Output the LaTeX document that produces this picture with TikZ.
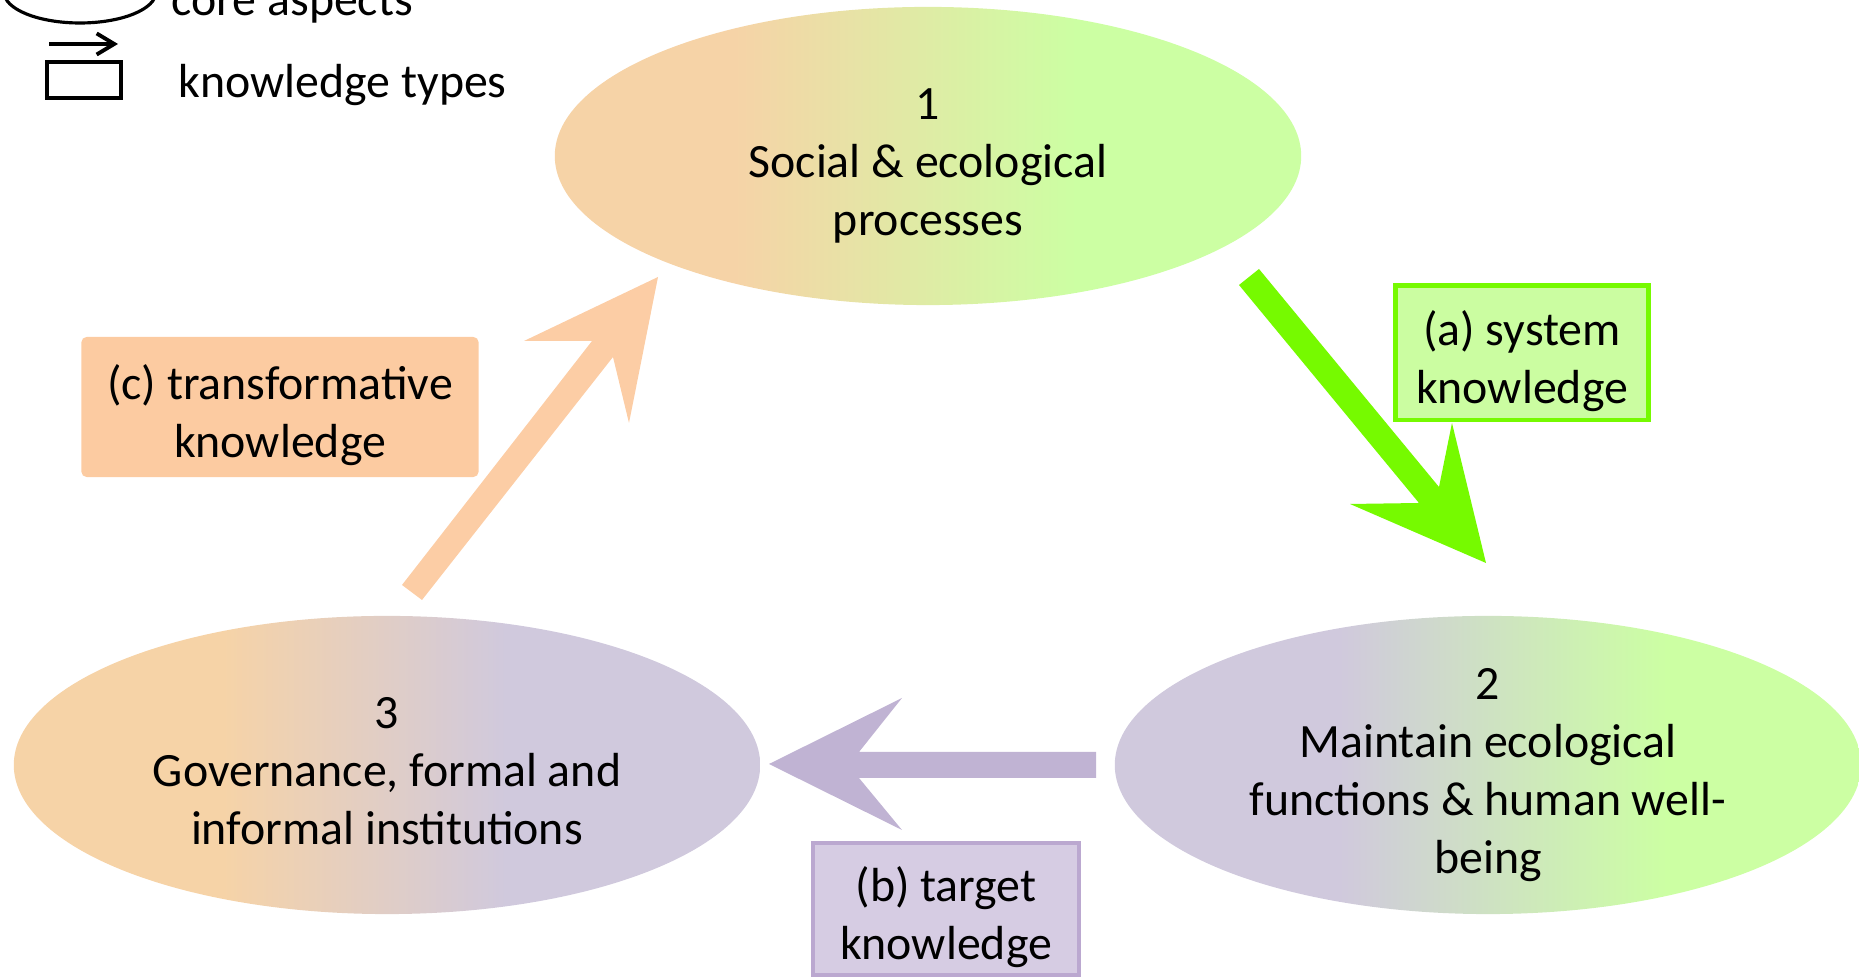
\documentclass[tikz,border=0pt]{standalone}
\usepackage{fontspec}
\setmainfont{Carlito}
\usetikzlibrary{shapes.geometric,arrows.meta}

\definecolor{peachC}{HTML}{F6D3A7}
\definecolor{limeC}{HTML}{CCFFA3}
\definecolor{lilacC}{HTML}{D0C9DD}
\definecolor{arrowOrange}{HTML}{FCCDA5}
\definecolor{arrowPurple}{HTML}{C0B3D3}
\definecolor{arrowGreen}{HTML}{76FA00}
\definecolor{boxLime}{HTML}{CBFDA1}
\definecolor{boxLilac}{HTML}{D6CCE3}
\definecolor{edgeLilac}{HTML}{BBA8D0}
\definecolor{boxPeach}{HTML}{FCCBA1}

\pgfdeclarehorizontalshading{peachLime}{100bp}{color(0bp)=(peachC); color(37bp)=(peachC); color(60bp)=(limeC); color(100bp)=(limeC)}
\pgfdeclarehorizontalshading{lilacLime}{100bp}{color(0bp)=(lilacC); color(40bp)=(lilacC); color(62bp)=(limeC); color(100bp)=(limeC)}
\pgfdeclarehorizontalshading{peachLilac}{100bp}{color(0bp)=(peachC); color(39bp)=(peachC); color(58bp)=(lilacC); color(100bp)=(lilacC)}

\newcommand{\tpStrut}{\rule{0pt}{15pt}}
\newcommand{\dpStrut}{\rule[-3pt]{0pt}{3pt}}

\begin{document}
\begin{tikzpicture}
[x=0.01cm, y=-0.01cm,
  aspectDecorate/.style={shape=ellipse,minimum width=7.46cm,minimum height=2.98cm,inner xsep=0pt,inner ysep=-12pt,align=center},%
  boxDecorate/.style={shape=rectangle,inner sep=0pt,align=center},%
  legendLine/.style={draw=black,line width=1.1pt}]
\fontsize{13.6pt}{16.5pt}\selectfont
\useasboundingbox (0,0) rectangle (1859,980);
\clip (0,0) rectangle (1859,980);
%% legend
\draw[legendLine,line width=0.9pt] (80,-8) ellipse [x radius=76, y radius=31];
\node (legCore) at (171,16) [anchor=base west,inner sep=0pt] {core aspects};
\draw[legendLine,-{Straight Barb[length=5pt,width=6pt]}] (49,44) -- (118,44);
\draw[legendLine,line width=1.4pt] (47,62) rectangle (121,98);
\node (legTypes) at (178,98) [anchor=base west,inner sep=0pt] {knowledge types};
%% core aspects
\foreach \nodename/\x/\y/\shd/\txt in {e1/928/156/peachLime/{\tpStrut 1\\Social \& ecological\\processes\dpStrut},
  e2/1488/765/lilacLime/{\tpStrut 2\\Maintain ecological\\functions \& human well-\\being\dpStrut},
  e3/387/765/peachLilac/{\tpStrut 3\\Governance, formal and\\informal institutions\dpStrut}}
{
  \node (\nodename) at (\x,\y) [aspectDecorate,shading=\shd] {\txt};
}
%% block arrows
\fill[arrowGreen] (1239,285) -- (1419,503) -- (1350,504) -- (1486,563) -- (1452,423) -- (1439,487) -- (1259,269) -- cycle;
\fill[arrowPurple] (769,764) -- (902,698) -- (859,752) -- (1096,752) -- (1096,778) -- (859,778) -- (902,830) -- cycle;
\fill[arrowOrange] (402,585) -- (592,341) -- (524,341) -- (658,277) -- (629,423) -- (613,357) -- (422,600) -- cycle;
%% knowledge types
\node (ka) at (1522,353) [boxDecorate,fill=boxLime,draw=arrowGreen,line width=1.4pt,minimum width=2.53cm,minimum height=1.34cm] {\tpStrut(a) system\\knowledge\dpStrut};
\node (kb) at (946,909) [boxDecorate,fill=boxLilac,draw=edgeLilac,line width=1.1pt,minimum width=2.66cm,minimum height=1.32cm] {\tpStrut(b) target\\knowledge\dpStrut};
\node (kc) at (280,407) [boxDecorate,fill=boxPeach,rounded corners=1.5pt,minimum width=3.97cm,minimum height=1.40cm] {\tpStrut(c) transformative\\knowledge\dpStrut};
\end{tikzpicture}
\end{document}
